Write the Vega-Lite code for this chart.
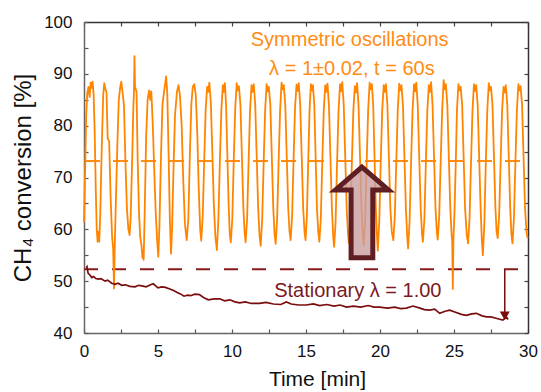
{
  "$schema": "https://vega.github.io/schema/vega-lite/v6.json",
  "width": 444,
  "height": 311,
  "autosize": {"type": "none"},
  "padding": {"left": 84, "top": 22, "right": 13, "bottom": 59},
  "background": "white",
  "config": {
    "view": {"stroke": null},
    "font": "Liberation Sans",
    "axis": {"grid": false, "labelFont": "Liberation Sans", "titleFont": "Liberation Sans", "labelFontSize": 17, "labelColor": "#111", "titleColor": "#111", "titleFontWeight": "normal", "domainWidth": 1.5, "tickWidth": 1.2}
  },
  "datasets": {
    "osc": [
      {"t":0,"v":61.4},{"t":0.08,"v":72},{"t":0.15,"v":82},{"t":0.22,"v":86.2},{"t":0.3,"v":87.5},{"t":0.38,"v":85.5},{"t":0.45,"v":88.3},{"t":0.52,"v":87.3},{"t":0.58,"v":88.5},{"t":0.65,"v":86},{"t":0.72,"v":79},{"t":0.8,"v":67},{"t":0.86,"v":60},{"t":0.92,"v":57.6},{"t":0.97,"v":59.5},
      {"t":1.03,"v":57.6},{"t":1.1,"v":63},{"t":1.2,"v":76},{"t":1.3,"v":86},{"t":1.37,"v":88.2},{"t":1.45,"v":87},{"t":1.52,"v":86.5},{"t":1.6,"v":77.5},{"t":1.7,"v":77},{"t":1.8,"v":66},{"t":1.9,"v":58.5},{"t":1.97,"v":56.3},
      {"t":2.03,"v":48.6},{"t":2.08,"v":57},{"t":2.15,"v":65},{"t":2.25,"v":76},{"t":2.35,"v":85},{"t":2.45,"v":87.5},{"t":2.52,"v":88.5},{"t":2.6,"v":86.5},{"t":2.7,"v":84},{"t":2.8,"v":73},{"t":2.9,"v":64},{"t":3.0,"v":60},
      {"t":3.08,"v":58.9},{"t":3.15,"v":62},{"t":3.25,"v":73},{"t":3.33,"v":83},{"t":3.38,"v":87},{"t":3.41,"v":93.4},{"t":3.45,"v":87.5},{"t":3.55,"v":86.5},{"t":3.63,"v":73},{"t":3.72,"v":63},{"t":3.8,"v":58.5},{"t":3.88,"v":57},{"t":3.95,"v":54.5},{"t":4.0,"v":56},
      {"t":4.03,"v":54.1},{"t":4.1,"v":63},{"t":4.2,"v":78},{"t":4.3,"v":85},{"t":4.4,"v":86.8},{"t":4.47,"v":85},{"t":4.55,"v":86.6},{"t":4.65,"v":80},{"t":4.75,"v":71},{"t":4.85,"v":63},{"t":4.95,"v":57.5},
      {"t":5.02,"v":54.7},{"t":5.1,"v":61},{"t":5.2,"v":74},{"t":5.3,"v":84},{"t":5.43,"v":87},{"t":5.55,"v":89.5},{"t":5.63,"v":86},{"t":5.72,"v":74},{"t":5.8,"v":62},
      {"t":5.88,"v":55.3},{"t":5.95,"v":60},{"t":6.05,"v":72},{"t":6.15,"v":82},{"t":6.28,"v":86.5},{"t":6.38,"v":87.8},{"t":6.48,"v":86},{"t":6.6,"v":80},{"t":6.7,"v":70},{"t":6.82,"v":61},
      {"t":6.94,"v":57.9},{"t":7.05,"v":62},{"t":7.15,"v":74},{"t":7.25,"v":84},{"t":7.35,"v":87.5},{"t":7.45,"v":88},{"t":7.55,"v":86},{"t":7.65,"v":79},{"t":7.75,"v":68},{"t":7.85,"v":60},
      {"t":7.92,"v":57.8},{"t":8.02,"v":62.5},{"t":8.12,"v":73},{"t":8.22,"v":83},{"t":8.32,"v":87.5},{"t":8.39,"v":86.5},{"t":8.47,"v":88.3},{"t":8.57,"v":84.5},{"t":8.67,"v":75},{"t":8.77,"v":65},{"t":8.88,"v":58.5},
      {"t":8.98,"v":56},{"t":9.08,"v":62},{"t":9.18,"v":73},{"t":9.28,"v":83},{"t":9.38,"v":87.8},{"t":9.45,"v":86.5},{"t":9.52,"v":88.2},{"t":9.6,"v":84},{"t":9.68,"v":75},{"t":9.77,"v":65},{"t":9.85,"v":59},
      {"t":9.92,"v":57.5},{"t":10.02,"v":62},{"t":10.12,"v":73.5},{"t":10.22,"v":83.5},{"t":10.32,"v":88.2},{"t":10.39,"v":86.8},{"t":10.47,"v":87.6},{"t":10.57,"v":84},{"t":10.67,"v":74},{"t":10.77,"v":64},{"t":10.85,"v":59.5},
      {"t":10.92,"v":57.5},{"t":11.02,"v":62},{"t":11.12,"v":73},{"t":11.22,"v":83},{"t":11.32,"v":87.8},{"t":11.39,"v":86.5},{"t":11.47,"v":88},{"t":11.57,"v":84},{"t":11.67,"v":74},{"t":11.77,"v":64},{"t":11.86,"v":58.8},
      {"t":11.94,"v":56.8},{"t":12.04,"v":62},{"t":12.14,"v":73},{"t":12.24,"v":83},{"t":12.34,"v":88},{"t":12.41,"v":86.6},{"t":12.49,"v":87.5},{"t":12.59,"v":84},{"t":12.69,"v":74},{"t":12.79,"v":64},{"t":12.88,"v":59},
      {"t":12.95,"v":57.2},{"t":13.05,"v":62},{"t":13.15,"v":73},{"t":13.25,"v":83},{"t":13.35,"v":88.3},{"t":13.42,"v":87},{"t":13.5,"v":87.8},{"t":13.6,"v":84},{"t":13.7,"v":74},{"t":13.8,"v":64},{"t":13.89,"v":59.5},
      {"t":13.96,"v":57.9},{"t":14.06,"v":62.5},{"t":14.16,"v":73.5},{"t":14.26,"v":83.5},{"t":14.36,"v":87.9},{"t":14.43,"v":86.7},{"t":14.51,"v":88.2},{"t":14.61,"v":84},{"t":14.71,"v":74},{"t":14.81,"v":64},{"t":14.9,"v":59.5},
      {"t":14.97,"v":57.9},{"t":15.06,"v":62.5},{"t":15.15,"v":73},{"t":15.24,"v":83},{"t":15.33,"v":88},{"t":15.4,"v":86.8},{"t":15.47,"v":87.8},{"t":15.56,"v":84},{"t":15.65,"v":74},{"t":15.74,"v":64},{"t":15.83,"v":59.5},
      {"t":15.9,"v":57.6},{"t":16.0,"v":62},{"t":16.1,"v":73},{"t":16.2,"v":83},{"t":16.3,"v":87.8},{"t":16.37,"v":86.5},{"t":16.45,"v":88.1},{"t":16.55,"v":84},{"t":16.65,"v":74},{"t":16.75,"v":64},{"t":16.84,"v":58.5},
      {"t":16.9,"v":56.6},{"t":17.0,"v":61.5},{"t":17.1,"v":73},{"t":17.2,"v":83},{"t":17.3,"v":88},{"t":17.37,"v":86.6},{"t":17.45,"v":88.4},{"t":17.55,"v":84},{"t":17.65,"v":74},{"t":17.75,"v":64},{"t":17.84,"v":59},
      {"t":17.9,"v":57.3},{"t":18.0,"v":62},{"t":18.1,"v":73},{"t":18.2,"v":83},{"t":18.3,"v":87.6},{"t":18.37,"v":86.4},{"t":18.45,"v":88.2},{"t":18.55,"v":84},{"t":18.65,"v":74},{"t":18.75,"v":64},{"t":18.84,"v":59},
      {"t":18.9,"v":56.9},{"t":19.0,"v":62},{"t":19.1,"v":73},{"t":19.2,"v":83},{"t":19.3,"v":88.3},{"t":19.37,"v":87},{"t":19.45,"v":88},{"t":19.54,"v":84},{"t":19.63,"v":74},{"t":19.72,"v":64},{"t":19.8,"v":58.5},
      {"t":19.85,"v":55.9},{"t":19.95,"v":61.5},{"t":20.05,"v":73},{"t":20.15,"v":83},{"t":20.25,"v":87.8},{"t":20.32,"v":86.5},{"t":20.4,"v":88},{"t":20.5,"v":84},{"t":20.6,"v":74},{"t":20.7,"v":64},{"t":20.8,"v":59.5},
      {"t":20.9,"v":57.9},{"t":21.0,"v":62.5},{"t":21.1,"v":73},{"t":21.2,"v":83},{"t":21.3,"v":88.1},{"t":21.37,"v":86.8},{"t":21.45,"v":87.8},{"t":21.55,"v":84},{"t":21.65,"v":74},{"t":21.75,"v":64},{"t":21.84,"v":58.5},
      {"t":21.9,"v":56.3},{"t":22.0,"v":61.5},{"t":22.1,"v":73},{"t":22.2,"v":83},{"t":22.3,"v":88},{"t":22.37,"v":86.6},{"t":22.45,"v":88.3},{"t":22.55,"v":84},{"t":22.65,"v":74},{"t":22.75,"v":64},{"t":22.84,"v":59},
      {"t":22.9,"v":57.6},{"t":23.0,"v":62},{"t":23.1,"v":73},{"t":23.2,"v":83},{"t":23.3,"v":87.8},{"t":23.37,"v":86.5},{"t":23.45,"v":88.4},{"t":23.55,"v":84},{"t":23.65,"v":74},{"t":23.75,"v":64},{"t":23.84,"v":59.5},
      {"t":23.9,"v":58},{"t":24.0,"v":62.5},{"t":24.1,"v":73},{"t":24.2,"v":83},{"t":24.3,"v":88.8},{"t":24.37,"v":87},{"t":24.45,"v":88},{"t":24.55,"v":84},{"t":24.65,"v":74},{"t":24.75,"v":64},{"t":24.84,"v":59},
      {"t":24.88,"v":57.5},{"t":24.92,"v":48.5},{"t":24.96,"v":58},{"t":25.04,"v":64},{"t":25.12,"v":73},{"t":25.2,"v":83},{"t":25.3,"v":88},{"t":25.37,"v":86.8},{"t":25.45,"v":87.5},{"t":25.55,"v":84},{"t":25.65,"v":74},{"t":25.75,"v":64},{"t":25.86,"v":59},
      {"t":25.95,"v":57.3},{"t":26.05,"v":62},{"t":26.15,"v":73},{"t":26.25,"v":83},{"t":26.35,"v":88},{"t":26.42,"v":86.7},{"t":26.5,"v":87.8},{"t":26.6,"v":84},{"t":26.7,"v":74},{"t":26.8,"v":64},{"t":26.88,"v":58},
      {"t":26.95,"v":55},{"t":27.05,"v":61},{"t":27.15,"v":73},{"t":27.25,"v":83},{"t":27.35,"v":88.2},{"t":27.42,"v":86.8},{"t":27.5,"v":87.5},{"t":27.6,"v":84},{"t":27.7,"v":74},{"t":27.8,"v":64},{"t":27.88,"v":59.5},
      {"t":27.95,"v":58.3},{"t":28.05,"v":62.5},{"t":28.15,"v":73},{"t":28.25,"v":83},{"t":28.35,"v":87.5},{"t":28.42,"v":86.4},{"t":28.5,"v":87.8},{"t":28.6,"v":84},{"t":28.7,"v":74},{"t":28.8,"v":64},{"t":28.88,"v":59},
      {"t":28.95,"v":57.3},{"t":29.05,"v":62},{"t":29.15,"v":73},{"t":29.25,"v":83},{"t":29.35,"v":88},{"t":29.42,"v":86.8},{"t":29.5,"v":87.6},{"t":29.6,"v":84},{"t":29.7,"v":74},{"t":29.8,"v":64},{"t":29.9,"v":59.5},
      {"t":29.97,"v":58.3}
    ],
    "stat": [
      {"t":0.15,"v":52.6},{"t":0.2,"v":52.8},{"t":0.28,"v":51.5},{"t":0.4,"v":51.2},{"t":0.52,"v":50.7},{"t":0.65,"v":50.9},{"t":0.8,"v":50.5},{"t":0.97,"v":50.4},{"t":1.15,"v":50.5},{"t":1.42,"v":50.0},{"t":1.6,"v":50.2},{"t":1.87,"v":49.6},{"t":2.1,"v":49.4},{"t":2.3,"v":49.6},{"t":2.55,"v":49.2},{"t":2.8,"v":49.3},{"t":3.1,"v":49.0},{"t":3.45,"v":48.9},{"t":3.7,"v":49.2},{"t":3.9,"v":49.1},{"t":4.2,"v":48.9},{"t":4.5,"v":49.3},{"t":4.68,"v":49.5},{"t":5.0,"v":48.7},{"t":5.25,"v":48.9},{"t":5.5,"v":48.8},{"t":5.8,"v":48.5},{"t":6.05,"v":48.2},{"t":6.3,"v":47.8},{"t":6.55,"v":47.5},{"t":6.75,"v":47.1},{"t":7.0,"v":47.3},{"t":7.2,"v":47.2},{"t":7.5,"v":47.5},{"t":7.8,"v":47.4},{"t":8.1,"v":46.8},{"t":8.4,"v":46.4},{"t":8.8,"v":46.6},{"t":9.17,"v":46.6},{"t":9.5,"v":46.2},{"t":9.85,"v":46.4},{"t":10.2,"v":46.0},{"t":10.52,"v":45.8},{"t":10.9,"v":46.0},{"t":11.3,"v":45.7},{"t":11.87,"v":45.7},{"t":12.3,"v":45.9},{"t":12.8,"v":45.6},{"t":13.3,"v":45.5},{"t":13.67,"v":46.0},{"t":14.0,"v":45.6},{"t":14.5,"v":45.4},{"t":15.02,"v":45.4},{"t":15.5,"v":45.6},{"t":15.92,"v":45.3},{"t":16.4,"v":45.5},{"t":16.9,"v":45.2},{"t":17.3,"v":45.4},{"t":17.73,"v":45.0},{"t":18.2,"v":45.2},{"t":18.7,"v":45.0},{"t":19.2,"v":45.3},{"t":19.6,"v":45.0},{"t":19.98,"v":45.0},{"t":20.5,"v":44.8},{"t":21.0,"v":45.0},{"t":21.4,"v":44.7},{"t":21.78,"v":44.8},{"t":22.23,"v":45.2},{"t":22.7,"v":44.8},{"t":23.0,"v":44.5},{"t":23.35,"v":44.4},{"t":23.7,"v":44.6},{"t":24.03,"v":43.8},{"t":24.4,"v":44.2},{"t":24.71,"v":44.4},{"t":25.1,"v":44.0},{"t":25.5,"v":43.6},{"t":25.83,"v":43.4},{"t":26.2,"v":43.7},{"t":26.51,"v":43.8},{"t":26.9,"v":43.3},{"t":27.2,"v":43.1},{"t":27.5,"v":43.1},{"t":27.9,"v":42.8},{"t":28.3,"v":42.5},{"t":28.54,"v":43.1},{"t":28.65,"v":42.6}
    ]
  },
  "layer": [
    {
      "data": {"values": [{"t0": 0.0, "t1": 29.55, "v": 52.3}]},
      "mark": {"type": "rule", "color": "#8b1a1a", "strokeWidth": 2, "strokeDash": [14, 14]},
      "encoding": {
        "x": {"field": "t0", "type": "quantitative", "scale": {"domain": [0, 30], "nice": false, "zero": false},
          "axis": {"orient": "bottom", "values": [0,2.5,5,7.5,10,12.5,15,17.5,20,22.5,25,27.5,30], "labelExpr": "datum.value % 5 === 0 ? format(datum.value, 'd') : ''", "title": "Time [min]", "titleFontSize": 21, "titlePadding": 9, "titleX": 233, "tickSize": -4, "labelPadding": 14, "domainColor": "#666", "tickColor": "#555", "labelFlush": false, "labelOverlap": false}},
        "x2": {"field": "t1"},
        "y": {"field": "v", "type": "quantitative", "scale": {"domain": [40, 100], "nice": false, "zero": false},
          "axis": {"orient": "left", "values": [40,45,50,55,60,65,70,75,80,85,90,95,100], "labelExpr": "datum.value % 10 === 0 ? datum.label : ''", "title": "CH₄ conversion [%]", "titleFontSize": 24, "titlePadding": 8, "tickSize": -4, "labelPadding": 16, "domainColor": "#666", "tickColor": "#555", "labelFlush": false, "labelOverlap": false}}
      }
    },
    {
      "data": {"values": [{"t0": 0.07, "t1": 29.7, "v": 73.2}]},
      "mark": {"type": "rule", "color": "#ff8c14", "strokeWidth": 2, "strokeDash": [15, 13]},
      "encoding": {
        "x": {"field": "t0", "type": "quantitative", "scale": {"domain": [0, 30], "nice": false, "zero": false},
          "axis": {"orient": "top", "values": [0,2.5,5,7.5,10,12.5,15,17.5,20,22.5,25,27.5,30], "labels": false, "title": null, "tickSize": -4, "domainColor": "#333", "tickColor": "#444"}},
        "x2": {"field": "t1"},
        "y": {"field": "v", "type": "quantitative", "scale": {"domain": [40, 100], "nice": false, "zero": false},
          "axis": {"orient": "right", "values": [40,45,50,55,60,65,70,75,80,85,90,95,100], "labels": false, "title": null, "tickSize": -4, "domainColor": "#333", "tickColor": "#444"}}
      }
    },
    {
      "data": {"name": "osc"},
      "mark": {"type": "line", "color": "#ff8500", "strokeWidth": 1.8, "strokeJoin": "round"},
      "encoding": {
        "x": {"field": "t", "type": "quantitative", "scale": {"domain": [0, 30], "nice": false, "zero": false}, "axis": null},
        "y": {"field": "v", "type": "quantitative", "scale": {"domain": [40, 100], "nice": false, "zero": false}, "axis": null}
      }
    },
    {
      "data": {"name": "stat"},
      "mark": {"type": "line", "color": "#7a0c0c", "strokeWidth": 1.7},
      "encoding": {
        "x": {"field": "t", "type": "quantitative", "scale": {"domain": [0, 30], "nice": false, "zero": false}, "axis": null},
        "y": {"field": "v", "type": "quantitative", "scale": {"domain": [40, 100], "nice": false, "zero": false}, "axis": null}
      }
    },
    {
      "data": {"values": [{"t": 28.43, "v": 52.3, "v2": 43.8}]},
      "mark": {"type": "rule", "color": "#7a0c0c", "strokeWidth": 1.5},
      "encoding": {
        "x": {"field": "t", "type": "quantitative", "scale": {"domain": [0, 30], "nice": false, "zero": false}, "axis": null},
        "y": {"field": "v", "type": "quantitative", "scale": {"domain": [40, 100], "nice": false, "zero": false}, "axis": null},
        "y2": {"field": "v2"}
      }
    },
    {
      "data": {"values": [{"t": 28.43, "v": 43.3}]},
      "mark": {"type": "point", "shape": "triangle-down", "size": 100, "filled": true, "color": "#7a0c0c", "opacity": 1},
      "encoding": {
        "x": {"field": "t", "type": "quantitative", "scale": {"domain": [0, 30], "nice": false, "zero": false}, "axis": null},
        "y": {"field": "v", "type": "quantitative", "scale": {"domain": [40, 100], "nice": false, "zero": false}, "axis": null}
      }
    },
    {
      "data": {"values": [{"t": 18.78, "v": 63.27}]},
      "mark": {"type": "point", "shape": "M0,-1 L0.586,-0.496 L0.24,-0.496 L0.24,1 L-0.24,1 L-0.24,-0.496 L-0.586,-0.496 Z", "size": 8190, "filled": true, "fill": "#c99ea0", "fillOpacity": 0.8, "stroke": "#5f1f22", "strokeWidth": 5, "strokeJoin": "miter", "strokeOpacity": 1, "opacity": 1},
      "encoding": {
        "x": {"field": "t", "type": "quantitative", "scale": {"domain": [0, 30], "nice": false, "zero": false}, "axis": null},
        "y": {"field": "v", "type": "quantitative", "scale": {"domain": [40, 100], "nice": false, "zero": false}, "axis": null}
      }
    },
    {
      "data": {"values": [{"label": "Symmetric oscillations", "t": 17.95, "v": 95.37}, {"label": "λ = 1±0.02, t = 60s", "t": 18.1, "v": 89.77}]},
      "mark": {"type": "text", "fontSize": 20, "color": "#ff8c14", "align": "center", "baseline": "alphabetic", "font": "Liberation Sans"},
      "encoding": {
        "x": {"field": "t", "type": "quantitative", "scale": {"domain": [0, 30], "nice": false, "zero": false}, "axis": null},
        "y": {"field": "v", "type": "quantitative", "scale": {"domain": [40, 100], "nice": false, "zero": false}, "axis": null},
        "text": {"field": "label"}
      }
    },
    {
      "data": {"values": [{"label": "Stationary λ = 1.00", "t": 18.5, "v": 47.0}]},
      "mark": {"type": "text", "fontSize": 20, "color": "#7b1a1f", "align": "center", "baseline": "alphabetic", "font": "Liberation Sans"},
      "encoding": {
        "x": {"field": "t", "type": "quantitative", "scale": {"domain": [0, 30], "nice": false, "zero": false}, "axis": null},
        "y": {"field": "v", "type": "quantitative", "scale": {"domain": [40, 100], "nice": false, "zero": false}, "axis": null},
        "text": {"field": "label"}
      }
    }
  ],
  "resolve": {"axis": {"x": "independent", "y": "independent"}}
}
